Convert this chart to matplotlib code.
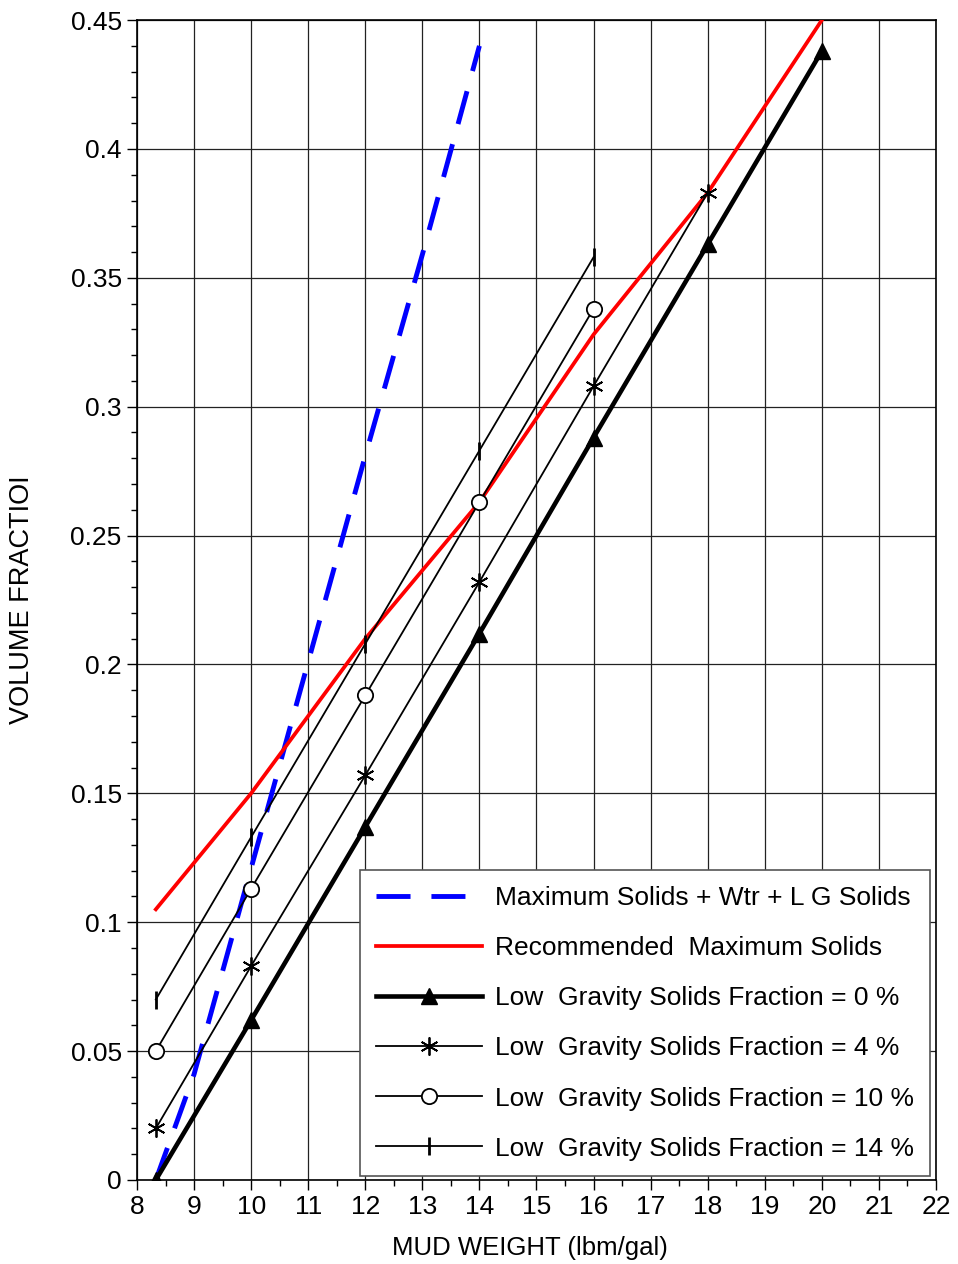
import numpy as np
import matplotlib
matplotlib.use("Agg")
import matplotlib.pyplot as plt
from matplotlib.ticker import MultipleLocator, FuncFormatter

plt.rcParams['font.family'] = ['Liberation Sans', 'DejaVu Sans']

# mud weight (lbm/gal) for each curve
mw_full = [8.33, 10, 12, 14, 16, 18, 20]
lgs0 = [0.0, 0.062, 0.137, 0.212, 0.288, 0.363, 0.438]
mw_4 = [8.33, 10, 12, 14, 16, 18]
lgs4 = [0.02, 0.083, 0.157, 0.232, 0.308, 0.383]
mw_10 = [8.33, 10, 12, 14, 16]
lgs10 = [0.05, 0.113, 0.188, 0.263, 0.338]
lgs14 = [0.07, 0.133, 0.208, 0.283, 0.358]
rec_max = [0.105, 0.15, 0.21, 0.263, 0.328, 0.383, 0.45]
mw_blue = [8.33, 9, 10, 11, 12, 13, 14]
max_solids = [0.0, 0.041, 0.121, 0.201, 0.281, 0.359, 0.44]

fig = plt.figure(figsize=(9.58, 12.64), dpi=100)
ax = fig.add_axes([0.143, 0.0665, 0.834, 0.9176])

ax.plot(mw_blue, max_solids, color="#0000ff", lw=3.5, dashes=(7, 4.3),
        label="Maximum Solids + Wtr + L G Solids", zorder=4)
ax.plot(mw_full, rec_max, color="#ff0000", lw=2.7,
        label="Recommended  Maximum Solids", zorder=4)
ax.plot(mw_full, lgs0, color="black", lw=3.3, marker="^", ms=12,
        label="Low  Gravity Solids Fraction = 0 %", zorder=5)
ax.plot(mw_4, lgs4, color="black", lw=1.3, marker=(6, 2, 0), ms=13, mew=1.3,
        label="Low  Gravity Solids Fraction = 4 %", zorder=5)
ax.plot(mw_10, lgs10, color="black", lw=1.3, marker="o", ms=11, mfc="white", mew=1.3,
        label="Low  Gravity Solids Fraction = 10 %", zorder=5)
ax.plot(mw_10, lgs14, color="black", lw=1.3, marker="|", ms=13, mew=2,
        label="Low  Gravity Solids Fraction = 14 %", zorder=5)

ax.set_xlim(8, 22)
ax.set_ylim(0, 0.45)
ax.xaxis.set_major_locator(MultipleLocator(1))
ax.xaxis.set_minor_locator(MultipleLocator(0.5))
ax.yaxis.set_major_locator(MultipleLocator(0.05))
ax.yaxis.set_minor_locator(MultipleLocator(0.01))
ax.yaxis.set_major_formatter(FuncFormatter(lambda v, p: f"{v:.2f}".rstrip("0").rstrip(".")))
ax.tick_params(which="major", length=7, width=1, labelsize=19, pad=4)
ax.tick_params(which="minor", length=4, width=1)
ax.grid(True, which="major", color="#222222", lw=0.9)
for s in ax.spines.values():
    s.set_linewidth(1.2)

ax.set_xlabel("MUD WEIGHT (lbm/gal)", fontsize=18.5, labelpad=0)
ax.set_ylabel("VOLUME FRACTIOI", fontsize=19.5, labelpad=14)
ax.xaxis.set_label_coords(0.492, -0.048)
ax.yaxis.set_label_coords(-0.128, 0.5)

leg = ax.legend(loc="lower right", bbox_to_anchor=(0.992, 0.003), fontsize=19,
                handlelength=4.0, handletextpad=0.5, labelspacing=0.99,
                borderpad=0.6, borderaxespad=0, fancybox=False, framealpha=1,
                edgecolor="#555555")
leg.get_frame().set_linewidth(1.2)
leg.set_zorder(10)

fig.savefig("out.png", dpi=100)
